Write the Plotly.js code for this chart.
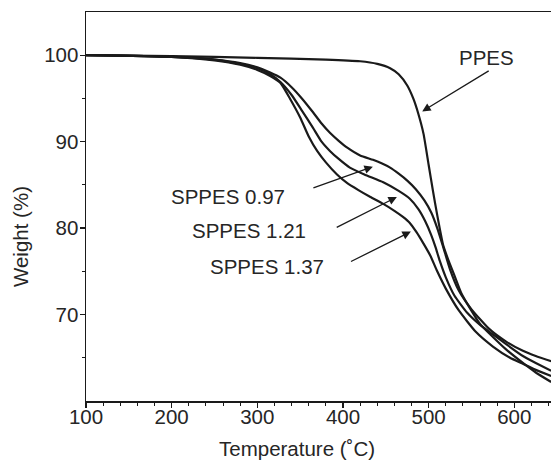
<!DOCTYPE html>
<html>
<head>
<meta charset="utf-8">
<script src="https://cdn.plot.ly/plotly-3.0.1.min.js"></script>
<style>html,body{margin:0;padding:0;background:#fff;}#chart{width:551px;height:460px;}</style>
</head>
<body>
<div id="chart"></div>
<script>
// Temperature (°C) and weight (%)
var ppesT = [100, 200, 300, 380, 420, 440, 455, 465, 475, 482, 488, 494, 500, 505, 510, 517, 523, 529, 538, 549, 560, 572, 590, 610, 625, 643];
var ppesW = [100, 99.9, 99.7, 99.5, 99.3, 99.0, 98.5, 97.8, 96.5, 95.0, 93.2, 90.9, 87.3, 84.3, 81.5, 78.0, 76.3, 74.8, 72.5, 70.6, 68.9, 67.7, 66.0, 64.4, 63.3, 62.2];

var s097T = [100, 200, 250, 280, 300, 315, 327, 340, 352, 365, 375, 385, 395, 405, 420, 435, 445, 455, 465, 475, 485, 495, 503, 510, 517, 525, 535, 550, 570, 590, 610, 625, 643];
var s097W = [100, 99.8, 99.5, 99.1, 98.6, 98.0, 97.4, 96.3, 95.0, 93.4, 92.1, 91.0, 90.1, 89.3, 88.4, 87.9, 87.5, 87.0, 86.3, 85.5, 84.5, 83.2, 81.8, 80.0, 77.8, 75.2, 72.8, 70.6, 68.4, 66.9, 65.8, 65.2, 64.6];

var s121T = [100, 200, 250, 280, 300, 315, 327, 340, 352, 365, 375, 385, 395, 408, 425, 447, 465, 478, 488, 496, 503, 508, 513, 520, 530, 545, 560, 575, 590, 610, 625, 643];
var s121W = [100, 99.8, 99.5, 99.0, 98.5, 97.8, 96.9, 95.4, 93.6, 91.6, 90.0, 88.9, 88.0, 87.0, 86.2, 85.3, 84.3, 83.4, 82.2, 80.8, 79.2, 77.8, 76.2, 74.3, 72.2, 70.2, 68.8, 67.7, 66.6, 65.2, 64.4, 63.5];

var s137T = [100, 200, 250, 280, 300, 315, 327, 338, 350, 360, 370, 380, 393, 405, 418, 432, 447, 460, 470, 478, 486, 494, 502, 510, 520, 535, 555, 575, 595, 610, 625, 643];
var s137W = [100, 99.8, 99.4, 98.9, 98.3, 97.6, 96.8, 95.0, 92.8, 90.6, 88.9, 87.6, 86.2, 85.2, 84.4, 83.6, 82.8, 82.0, 81.3, 80.6, 79.5, 78.2, 76.8, 75.0, 73.0, 70.5, 68.0, 66.3, 65.0, 64.3, 63.6, 62.9];

var xTickVals = [100, 200, 300, 400, 500, 600];
var yTickVals = [70, 80, 90, 100];
var yMinorVals = [65, 75, 85, 95];

var labelNames = ["PPES", "SPPES 0.97", "SPPES 1.21", "SPPES 1.37"];
var labelX = [567.6, 266, 290.7, 311.5];
var labelY = [99.77, 83.67, 79.73, 75.56];
var arrowTailX = [571.8, 363.7, 390.9, 407.6];
var arrowTailY = [98.3, 84.6, 80.0, 76.05];
var arrowHeadX = [492.4, 434.9, 462.9, 479.2];
var arrowHeadY = [93.5, 87.1, 83.6, 79.6];

var xTitle = 'Temperature (˚C)';
var yTitle = 'Weight (%)';

var lineStyle = {color: '#1a1a1a', width: 2.2, shape: 'spline', smoothing: 0.5};
var series = [[ppesT, ppesW], [s097T, s097W], [s121T, s121W], [s137T, s137W]];
var traces = series.map(function (s, i) {
  return {x: s[0], y: s[1], type: 'scatter', mode: 'lines', line: lineStyle,
          name: labelNames[i], showlegend: false, hoverinfo: 'skip'};
});

var textColor = '#262626';
var font = {family: '"Liberation Sans", Arial, sans-serif', size: 20.5, color: textColor};
var annotations = [];
for (var i = 0; i < labelNames.length; i++) {
  annotations.push({x: labelX[i], y: labelY[i], xref: 'x', yref: 'y', text: labelNames[i],
                    showarrow: false, font: font, xanchor: 'center', yanchor: 'middle'});
  annotations.push({x: arrowHeadX[i], y: arrowHeadY[i], xref: 'x', yref: 'y',
                    ax: arrowTailX[i], ay: arrowTailY[i], axref: 'x', ayref: 'y',
                    text: '', showarrow: true, arrowhead: 2, arrowsize: 1.3,
                    arrowwidth: 1.3, arrowcolor: '#1a1a1a', standoff: 0, startstandoff: 0});
}
annotations.push({x: 0.453, y: -0.121, xref: 'paper', yref: 'paper', text: xTitle,
                  showarrow: false, font: font, xanchor: 'center', yanchor: 'middle'});
annotations.push({x: -0.142, y: 0.424, xref: 'paper', yref: 'paper', text: yTitle,
                  textangle: -90, showarrow: false, font: font, xanchor: 'center', yanchor: 'middle'});

var layout = {
  width: 551, height: 460,
  margin: {l: 86, r: 0, t: 12, b: 59},
  paper_bgcolor: '#ffffff', plot_bgcolor: '#ffffff',
  font: font,
  showlegend: false,
  xaxis: {
    range: [100, 642.8], tickvals: xTickVals, ticktext: xTickVals.map(String),
    ticks: 'outside', ticklen: 5, tickwidth: 1.3, tickcolor: '#1a1a1a',
    showline: true, linecolor: '#1a1a1a', linewidth: 1.5, mirror: true,
    showgrid: false, zeroline: false, ticklabelstandoff: -8,
    minor: {dtick: 20, tick0: 100, ticks: 'outside', ticklen: 3, tickwidth: 1, tickcolor: '#1a1a1a', showgrid: false},
    tickfont: font
  },
  yaxis: {
    range: [60, 105], tickvals: yTickVals, ticktext: yTickVals.map(String),
    ticks: 'outside', ticklen: 5, tickwidth: 1.3, tickcolor: '#1a1a1a',
    showline: true, linecolor: '#1a1a1a', linewidth: 1.5, mirror: false,
    showgrid: false, zeroline: false, ticklabelstandoff: -3,
    minor: {tickmode: 'array', tickvals: yMinorVals, ticks: 'outside', ticklen: 3, tickwidth: 1, tickcolor: '#1a1a1a', showgrid: false},
    tickfont: font
  },
  annotations: annotations
};

Plotly.newPlot('chart', traces, layout, {staticPlot: true, displayModeBar: false});
</script>
</body>
</html>
